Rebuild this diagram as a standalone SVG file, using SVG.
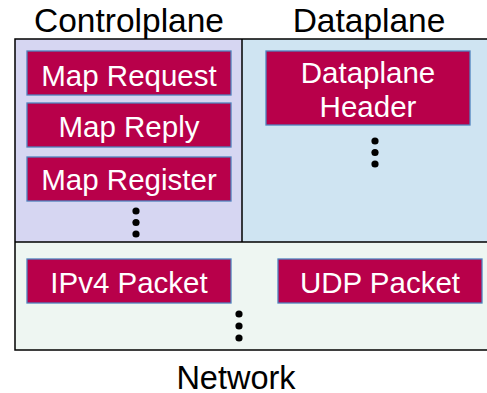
<svg xmlns="http://www.w3.org/2000/svg" width="487" height="393" viewBox="0 0 487 393">
<style>
.hd{font-family:"Liberation Sans",Arial,sans-serif;font-size:33.5px;fill:#000;text-anchor:middle}
.box{fill:#B8004A;stroke:#4F81BD;stroke-width:1.3}
.lb{font-family:"Liberation Sans",Arial,sans-serif;font-size:29.5px;fill:#fff;text-anchor:middle}
.dot{fill:#000}
.frame{fill:none;stroke:#000;stroke-width:1.5}
</style>
<rect width="487" height="393" fill="#fff"/>
<g id="regions">
<rect x="15" y="39" width="227" height="203" fill="#D6D6F2"/>
<rect x="242" y="39" width="250" height="203" fill="#CFE4F2"/>
<rect x="15" y="242" width="477" height="108" fill="#EEF6F2"/>
<rect class="frame" x="15" y="39" width="480" height="311"/>
<line class="frame" x1="242" y1="39" x2="242" y2="242"/>
<line class="frame" x1="15" y1="242" x2="495" y2="242"/>
</g>
<g id="titles">
<text class="hd" x="129" y="32">Controlplane</text>
<text class="hd" x="369" y="32">Dataplane</text>
<text class="hd" x="236" y="389" style="font-size:32.5px">Network</text>
</g>
<g id="map-request"><rect class="box" x="27" y="51" width="204" height="44"/><text class="lb" x="129" y="86">Map Request</text></g>
<g id="map-reply"><rect class="box" x="27" y="103" width="204" height="44"/><text class="lb" x="129" y="137">Map Reply</text></g>
<g id="map-register"><rect class="box" x="27" y="157" width="204" height="44"/><text class="lb" x="129" y="190">Map Register</text></g>
<g id="dataplane-header"><rect class="box" x="266" y="51" width="204" height="74"/><text class="lb" x="368" y="83">Dataplane</text><text class="lb" x="368" y="117">Header</text></g>
<g id="ipv4-packet"><rect class="box" x="27" y="259" width="204" height="44"/><text class="lb" x="129" y="293">IPv4 Packet</text></g>
<g id="udp-packet"><rect class="box" x="278" y="259" width="204" height="44"/><text class="lb" x="380" y="293">UDP Packet</text></g>
<g id="dots">
<circle class="dot" cx="136" cy="211" r="3.6"/><circle class="dot" cx="136" cy="222.5" r="3.6"/><circle class="dot" cx="136" cy="234" r="3.6"/>
<circle class="dot" cx="375" cy="141" r="3.6"/><circle class="dot" cx="375" cy="152.5" r="3.6"/><circle class="dot" cx="375" cy="164" r="3.6"/>
<circle class="dot" cx="239" cy="314" r="3.6"/><circle class="dot" cx="239" cy="326" r="3.6"/><circle class="dot" cx="239" cy="338" r="3.6"/>
</g>
</svg>
